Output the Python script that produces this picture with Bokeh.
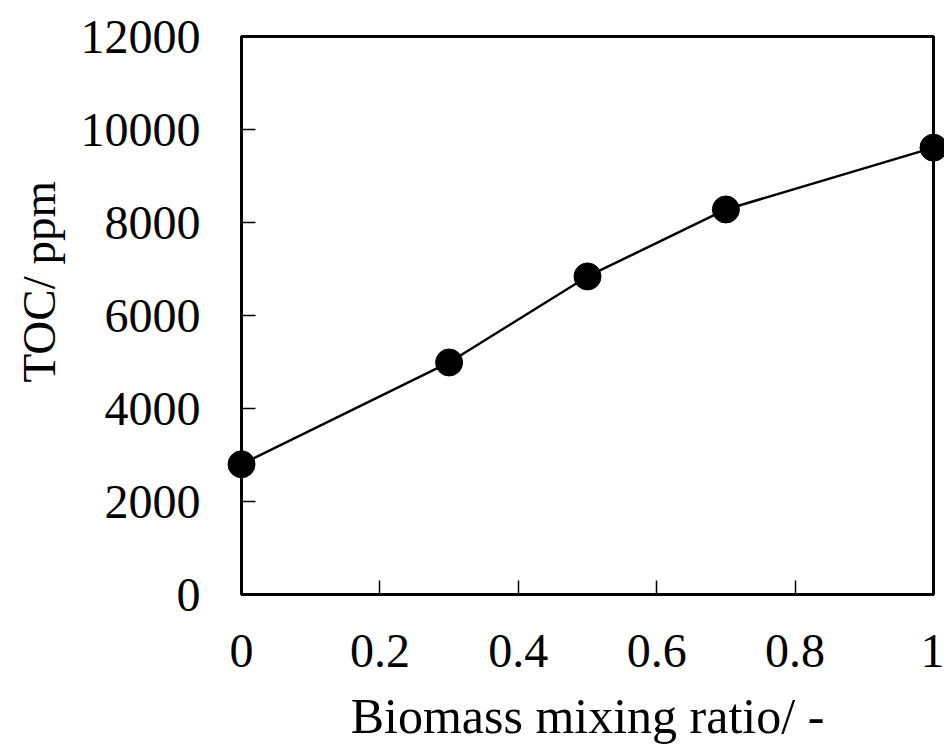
from bokeh.plotting import figure
from bokeh.models import FixedTicker, Range1d, Title
from bokeh.embed import file_html
from bokeh.resources import INLINE

mixing_ratio = [0.0, 0.3, 0.5, 0.7, 1.0]
toc_ppm = [2800, 4990, 6840, 8280, 9610]

x_ticks = [0, 0.2, 0.4, 0.6, 0.8, 1.0]
x_tick_labels = ["0", "0.2", "0.4", "0.6", "0.8", "1"]
y_ticks = [0, 2000, 4000, 6000, 8000, 10000, 12000]
y_tick_labels = ["0", "2000", "4000", "6000", "8000", "10000", "12000"]

x_label = "Biomass mixing ratio/ -"
y_label = "TOC/ ppm"

FONT = "Liberation Serif"

p = figure(width=944, height=747, output_backend="svg", toolbar_location=None,
           x_range=Range1d(0, 1), y_range=Range1d(0, 12000),
           min_border_left=241, min_border_top=36, min_border_right=11, min_border_bottom=153)

p.grid.visible = False
p.outline_line_color = "black"
p.outline_line_width = 3
p.background_fill_color = "white"
p.border_fill_color = "white"

line_r = p.line(mixing_ratio, toc_ppm, line_color="black", line_width=2.5)
pts_r = p.scatter(mixing_ratio, toc_ppm, size=27, fill_color="black", line_color="black")
pts_r.level = "overlay"

for ax in (p.xaxis[0], p.yaxis[0]):
    ax.axis_line_color = None
    ax.major_tick_in = 14
    ax.major_tick_out = 0
    ax.minor_tick_line_color = None
    ax.major_tick_line_color = "black"
    ax.major_tick_line_width = 1.5
    ax.major_label_text_font = FONT
    ax.major_label_text_font_size = "48px"
    ax.major_label_text_color = "black"
    ax.axis_label_text_font = FONT
    ax.axis_label_text_font_size = "50px"
    ax.axis_label_text_font_style = "normal"
    ax.axis_label_text_color = "black"

p.xaxis[0].ticker = FixedTicker(ticks=x_ticks)
p.xaxis[0].major_label_overrides = dict(zip(x_ticks, x_tick_labels))
p.yaxis[0].ticker = FixedTicker(ticks=y_ticks)
p.yaxis[0].major_label_overrides = dict(zip(y_ticks, y_tick_labels))

p.xaxis[0].major_label_standoff = 40
p.yaxis[0].major_label_standoff = 41
p.xaxis[0].axis_label = x_label
p.xaxis[0].axis_label_standoff = 18

ytitle = Title(text=y_label, align="left", vertical_align="top", offset=212, standoff=22,
               text_font=FONT, text_font_size="47px", text_font_style="normal",
               text_color="black")
p.add_layout(ytitle, "left")

open("out.html", "w").write(file_html(p, INLINE))
